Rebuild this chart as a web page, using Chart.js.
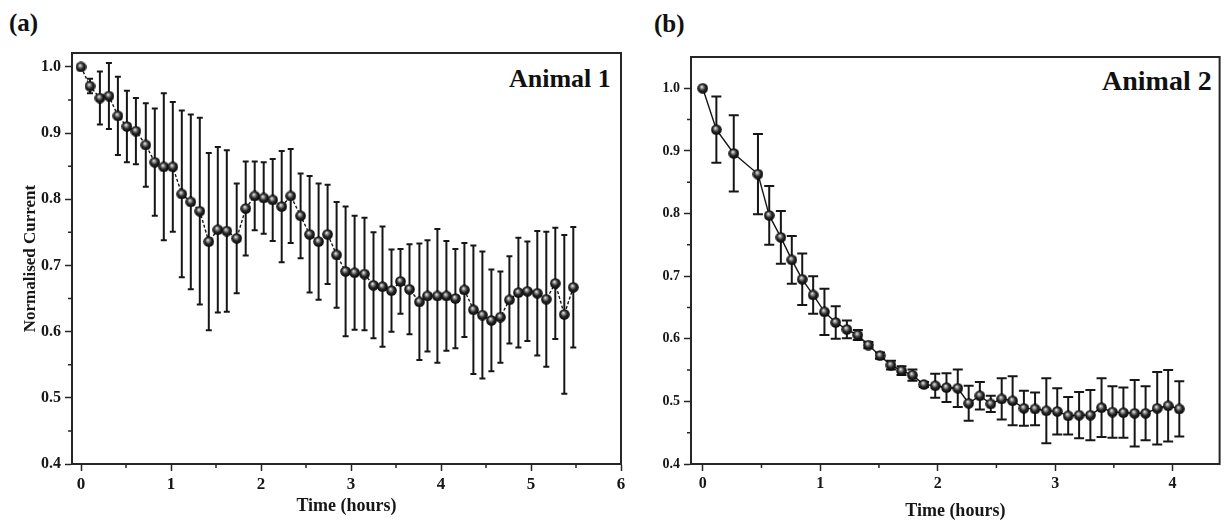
<!DOCTYPE html>
<html>
<head>
<meta charset="utf-8">
<title>Normalised current over time</title>
<script src="https://cdn.jsdelivr.net/npm/chart.js@4.4.0/dist/chart.umd.min.js"></script>
<style>
  body { margin: 0; width: 1226px; height: 524px; background: #fff; position: relative; overflow: hidden;
         font-family: "Liberation Serif", "Times New Roman", serif; }
  .panel { position: absolute; top: 0; height: 524px; }
  .tag { position: absolute; font-weight: bold; color: #111; line-height: 1; white-space: nowrap; }
</style>
</head>
<body>
<div class="tag" style="left:9px; top:10px; font-size:25px;">(a)</div>
<div class="tag" style="left:654px; top:11px; font-size:25px;">(b)</div>
<div class="tag" style="left:509px; top:66px; font-size:26px;">Animal 1</div>
<div class="tag" style="left:1102px; top:67px; font-size:28px;">Animal 2</div>

<div class="panel" style="left:0; width:640px;"><canvas id="animal1"></canvas></div>
<div class="panel" style="left:620px; width:606px;"><canvas id="animal2"></canvas></div>

<script>
// Animal 1 - normalised current, mean and error per sample
const leftTime = [0, 0.10, 0.21, 0.31, 0.41, 0.51, 0.61, 0.72, 0.82, 0.92,
  1.02, 1.12, 1.22, 1.32, 1.42, 1.52, 1.62, 1.73, 1.83, 1.93,
  2.03, 2.13, 2.23, 2.33, 2.44, 2.54, 2.64, 2.74, 2.84, 2.94,
  3.04, 3.15, 3.25, 3.35, 3.45, 3.55, 3.65, 3.76, 3.85, 3.96,
  4.06, 4.16, 4.26, 4.36, 4.46, 4.56, 4.66, 4.76, 4.86, 4.96,
  5.07, 5.17, 5.27, 5.37, 5.47];
const leftMean = [1.000, 0.971, 0.953, 0.956, 0.926, 0.910, 0.903, 0.882, 0.856, 0.849,
  0.849, 0.808, 0.796, 0.782, 0.736, 0.754, 0.752, 0.741, 0.786, 0.805,
  0.802, 0.799, 0.789, 0.805, 0.775, 0.747, 0.736, 0.747, 0.716, 0.691,
  0.689, 0.687, 0.670, 0.668, 0.662, 0.676, 0.664, 0.645, 0.654, 0.654,
  0.654, 0.650, 0.663, 0.633, 0.625, 0.617, 0.622, 0.648, 0.659, 0.661,
  0.658, 0.649, 0.673, 0.626, 0.667];
const leftErr = [0, 0.011, 0.040, 0.050, 0.059, 0.054, 0.050, 0.063, 0.081, 0.111,
  0.098, 0.126, 0.132, 0.141, 0.134, 0.125, 0.122, 0.083, 0.071, 0.052,
  0.054, 0.062, 0.084, 0.071, 0.064, 0.088, 0.088, 0.075, 0.080, 0.098,
  0.086, 0.085, 0.080, 0.091, 0.062, 0.049, 0.068, 0.088, 0.084, 0.101,
  0.083, 0.075, 0.071, 0.097, 0.096, 0.077, 0.069, 0.066, 0.083, 0.075,
  0.094, 0.102, 0.084, 0.120, 0.091];

// Animal 2
const rightTime = [0, 0.116, 0.264, 0.47, 0.566, 0.665, 0.758, 0.847, 0.940, 1.036,
  1.132, 1.227, 1.320, 1.410, 1.509, 1.602, 1.692, 1.785, 1.883, 1.979,
  2.075, 2.171, 2.264, 2.359, 2.452, 2.545, 2.638, 2.734, 2.829, 2.925,
  3.018, 3.111, 3.204, 3.300, 3.395, 3.488, 3.581, 3.677, 3.770, 3.869,
  3.962, 4.057];
const rightMean = [1.000, 0.934, 0.896, 0.863, 0.797, 0.762, 0.726, 0.695, 0.670, 0.643,
  0.626, 0.615, 0.606, 0.590, 0.573, 0.558, 0.549, 0.542, 0.527, 0.525,
  0.522, 0.521, 0.497, 0.509, 0.496, 0.504, 0.501, 0.489, 0.488, 0.485,
  0.484, 0.477, 0.478, 0.478, 0.490, 0.483, 0.482, 0.481, 0.481, 0.489,
  0.493, 0.488];
const rightErr = [0, 0.053, 0.061, 0.064, 0.047, 0.042, 0.038, 0.041, 0.030, 0.037,
  0.026, 0.014, 0.008, 0.005, 0.005, 0.007, 0.007, 0.009, 0.004, 0.019,
  0.023, 0.030, 0.028, 0.022, 0.013, 0.033, 0.039, 0.028, 0.026, 0.052,
  0.037, 0.030, 0.037, 0.040, 0.047, 0.041, 0.040, 0.053, 0.043, 0.058,
  0.057, 0.044];

// axis ticks
const yTicks = [0.4, 0.5, 0.6, 0.7, 0.8, 0.9, 1.0];
const yMinor = [0.45, 0.55, 0.65, 0.75, 0.85, 0.95];
const leftXTicks = [0, 1, 2, 3, 4, 5, 6];
const leftXMinor = [0.5, 1.5, 2.5, 3.5, 4.5, 5.5];
const rightXTicks = [0, 1, 2, 3, 4];
const rightXMinor = [0.5, 1.5, 2.5, 3.5];

const SERIF = '"Liberation Serif", "Times New Roman", serif';
const INK = '#161616';

// shaded ball used as the marker
function makeBall(d) {
  const c = document.createElement('canvas');
  c.width = d; c.height = d;
  const g = c.getContext('2d');
  const r = d / 2;
  const grad = g.createRadialGradient(r * 0.8, r * 0.7, 0.2, r, r, r);
  grad.addColorStop(0, '#f2f2f2');
  grad.addColorStop(0.22, '#9a9a9a');
  grad.addColorStop(0.55, '#2a2a2a');
  grad.addColorStop(1, '#000');
  g.fillStyle = grad;
  g.beginPath();
  g.arc(r, r, r - 0.2, 0, Math.PI * 2);
  g.fill();
  return c;
}
const ball = makeBall(11);

// vertical error bars with caps, drawn under the line and markers
const errorBars = {
  id: 'errorBars',
  beforeDatasetsDraw(chart) {
    const ds = chart.data.datasets[0];
    const { ctx, scales: { x, y } } = chart;
    const half = ds.capWidth / 2;
    ctx.save();
    ctx.strokeStyle = INK;
    ctx.lineWidth = 2;
    ds.data.forEach((p, i) => {
      const e = ds.errors[i];
      if (!e) return;
      const px = x.getPixelForValue(p.x);
      const top = y.getPixelForValue(p.y + e);
      const bot = y.getPixelForValue(p.y - e);
      ctx.beginPath();
      ctx.moveTo(px, top); ctx.lineTo(px, bot);
      ctx.moveTo(px - half, top); ctx.lineTo(px + half, top);
      ctx.moveTo(px - half, bot); ctx.lineTo(px + half, bot);
      ctx.stroke();
    });
    ctx.restore();
  }
};

// closed frame plus short minor ticks
const frame = {
  id: 'frame',
  afterDraw(chart, args, opts) {
    const { ctx, chartArea: a, scales: { x, y } } = chart;
    ctx.save();
    ctx.strokeStyle = '#262626';
    ctx.lineWidth = 2;
    ctx.strokeRect(a.left, a.top, a.right - a.left, a.bottom - a.top);
    ctx.lineWidth = 1.5;
    ctx.beginPath();
    opts.x.forEach(v => {
      const px = x.getPixelForValue(v);
      ctx.moveTo(px, a.bottom); ctx.lineTo(px, a.bottom + 4);
    });
    opts.y.forEach(v => {
      const py = y.getPixelForValue(v);
      ctx.moveTo(a.left, py); ctx.lineTo(a.left - 4, py);
    });
    ctx.stroke();
    ctx.restore();
  }
};

function panel(id, p) {
  return new Chart(document.getElementById(id), {
    type: 'line',
    data: {
      datasets: [{
        data: p.time.map((t, i) => ({ x: t, y: p.mean[i] })),
        errors: p.err,
        capWidth: p.cap,
        borderColor: INK,
        borderWidth: 1.4,
        borderDash: p.dash,
        pointStyle: ball,
        pointRadius: 5,
        tension: 0
      }]
    },
    plugins: [errorBars, frame],
    options: {
      responsive: true,
      maintainAspectRatio: false,
      animation: false,
      layout: { padding: p.pad },
      plugins: {
        legend: { display: false },
        tooltip: { enabled: false },
        frame: { x: p.xMinor, y: yMinor }
      },
      scales: {
        x: {
          type: 'linear',
          min: p.xMin,
          max: p.xMax,
          afterBuildTicks: s => { s.ticks = p.xTicks.map(v => ({ value: v })); },
          afterFit: s => { s.height = 60; },
          grid: { drawOnChartArea: false, tickLength: 7, tickColor: '#262626', tickWidth: 1.5 },
          border: { color: '#262626', width: 2 },
          ticks: {
            autoSkip: false, maxRotation: 0, padding: 3, color: INK,
            font: { family: SERIF, weight: 'bold', size: p.xTickSize },
            callback: v => String(v)
          },
          title: {
            display: true, text: 'Time (hours)', color: INK,
            font: { family: SERIF, weight: 'bold', size: 18 },
            padding: { top: 0, bottom: p.xTitlePad }
          }
        },
        y: {
          type: 'linear',
          min: 0.4,
          max: p.yMax,
          afterBuildTicks: s => { s.ticks = yTicks.map(v => ({ value: v })); },
          afterFit: s => { s.width = p.yWidth; },
          grid: { drawOnChartArea: false, tickLength: 7, tickColor: '#262626', tickWidth: 1.5 },
          border: { color: '#262626', width: 2 },
          ticks: {
            autoSkip: false, padding: 4, color: INK,
            font: { family: SERIF, weight: 'bold', size: p.yTickSize },
            callback: v => v.toFixed(1)
          },
          title: {
            display: !!p.yTitle, text: p.yTitle || '', color: INK,
            font: { family: SERIF, weight: 'bold', size: 17 },
            padding: { top: 20, bottom: 0 }
          }
        }
      }
    }
  });
}

panel('animal1', {
  time: leftTime, mean: leftMean, err: leftErr,
  cap: 6, dash: [3, 2],
  xMin: -0.1, xMax: 6, xTicks: leftXTicks, xMinor: leftXMinor,
  yMax: 1.021, yWidth: 72, yTitle: 'Normalised Current',
  xTickSize: 17, yTickSize: 16, xTitlePad: 7,
  pad: { top: 53, right: 19, left: 0, bottom: 0 }
});

panel('animal2', {
  time: rightTime, mean: rightMean, err: rightErr,
  cap: 10, dash: [],
  xMin: -0.1, xMax: 4.4, xTicks: rightXTicks, xMinor: rightXMinor,
  yMax: 1.05, yWidth: 71, yTitle: '',
  xTickSize: 16, yTickSize: 14, xTitlePad: 2,
  pad: { top: 57, right: 2, left: 0, bottom: 0 }
});
</script>
</body>
</html>
